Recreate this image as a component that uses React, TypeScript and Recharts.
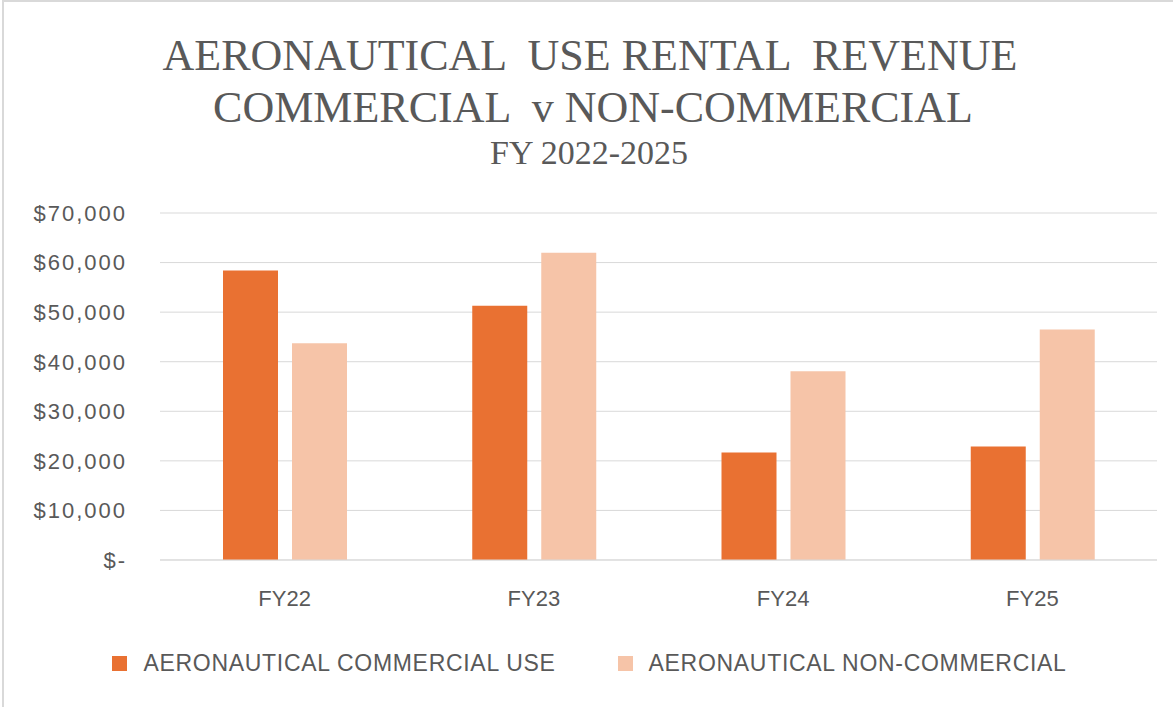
import { BarChart, Bar, XAxis, YAxis, CartesianGrid, Legend } from 'recharts';

const CATEGORIES = ['FY22', 'FY23', 'FY24', 'FY25'];
const COMMERCIAL = [58400, 51300, 21700, 22900];
const NON_COMMERCIAL = [43700, 62000, 38100, 46500];
const Y_TICKS = [0, 10000, 20000, 30000, 40000, 50000, 60000, 70000];
const SERIES_NAMES = ['AERONAUTICAL COMMERCIAL USE', 'AERONAUTICAL NON-COMMERCIAL'];
const TITLE_LINES = ['AERONAUTICAL  USE RENTAL  REVENUE', 'COMMERCIAL  v NON-COMMERCIAL', 'FY 2022-2025'];

const COLORS = ['#E97132', '#F6C4A8'];
const TEXT = '#595959';
const SANS = '"Liberation Sans", Arial, sans-serif';
const SERIF = '"Liberation Serif", "Times New Roman", serif';

const data = CATEGORIES.map((fy, i) => ({
  fy,
  commercial: COMMERCIAL[i],
  nonCommercial: NON_COMMERCIAL[i],
}));

const money = (v: number) => (v === 0 ? '$-' : '$' + v.toLocaleString('en-US'));

function LegendBox({ payload }: any) {
  return (
    <div style={{ display: 'flex', justifyContent: 'center', alignItems: 'center', height: 40, paddingLeft: 22 }}>
      {(payload || []).map((p: any, i: number) => (
        <div key={p.value} style={{ display: 'flex', alignItems: 'center', marginLeft: i ? 62 : 0 }}>
          <span style={{ width: 15, height: 15, background: p.color, marginRight: 16, display: 'inline-block' }} />
          <span style={{ fontFamily: SANS, fontSize: 23, letterSpacing: 0.7, color: TEXT }}>{p.value}</span>
        </div>
      ))}
    </div>
  );
}

export default function App() {
  return (
    <div style={{ position: 'absolute', left: 0, top: 0, width: 1173, height: 707, background: '#fff', overflow: 'hidden' }}>
      <BarChart
        width={1173}
        height={707}
        data={data}
        margin={{ top: 213, right: 16, bottom: 0, left: 0 }}
        barSize={55}
        barGap={14}
      >
        <CartesianGrid stroke="#d9d9d9" vertical={false} />
        <XAxis
          dataKey="fy"
          axisLine={{ stroke: '#d9d9d9' }}
          tickLine={false}
          height={107}
          tickMargin={24}
          tick={{ fontFamily: SANS, fontSize: 22, fill: TEXT }}
        />
        <YAxis
          width={160}
          domain={[0, 70000]}
          ticks={Y_TICKS}
          tickFormatter={money}
          axisLine={false}
          tickLine={false}
          tickMargin={27}
          tick={{ fontFamily: SANS, fontSize: 22, fill: TEXT, letterSpacing: 2 }}
        />
        <Legend verticalAlign="bottom" content={<LegendBox />} wrapperStyle={{ bottom: 24 }} />
        <Bar dataKey="commercial" name={SERIES_NAMES[0]} fill={COLORS[0]} isAnimationActive={false} />
        <Bar dataKey="nonCommercial" name={SERIES_NAMES[1]} fill={COLORS[1]} isAnimationActive={false} />
      </BarChart>
      <svg width={1173} height={707} style={{ position: 'absolute', left: 0, top: 0, pointerEvents: 'none' }}>
        <rect x={3} y={1} width={1200} height={720} fill="none" stroke="#d9d9d9" strokeWidth={2} />
        <text x={590} y={70} textAnchor="middle" fontFamily={SERIF} fontSize={44} fill={TEXT} style={{ whiteSpace: 'pre' }}>
          {TITLE_LINES[0]}
        </text>
        <text x={593} y={122} textAnchor="middle" fontFamily={SERIF} fontSize={44} fill={TEXT} style={{ whiteSpace: 'pre' }}>
          {TITLE_LINES[1]}
        </text>
        <text x={589} y={164} textAnchor="middle" fontFamily={SERIF} fontSize={34} fill={TEXT}>
          {TITLE_LINES[2]}
        </text>
      </svg>
    </div>
  );
}
